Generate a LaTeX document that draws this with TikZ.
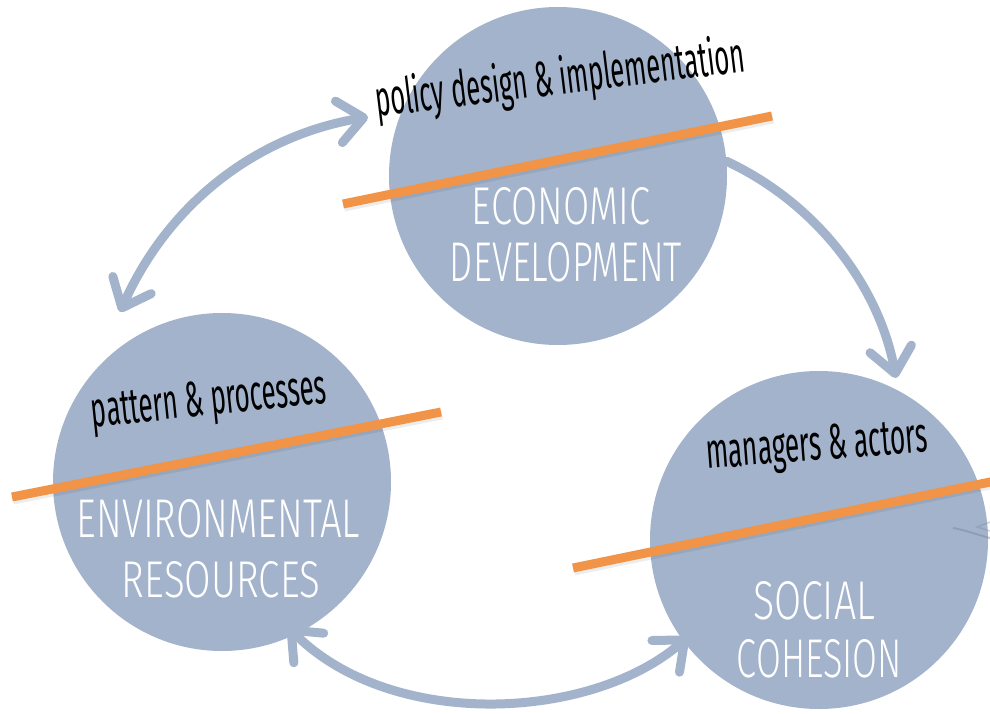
\documentclass[tikz,border=0pt]{standalone}
\usepackage{fontspec}
\setmainfont{Fira Sans}
\newfontfamily\thinfont{Fira Sans}[UprightFont={* Light}]
\usetikzlibrary{arrows.meta}
\definecolor{circ}{RGB}{162,179,203}
\definecolor{orng}{RGB}{242,148,71}
\tikzset{
  bubble/.style={circle, fill=circ, minimum size=338pt, inner sep=0pt},
  bar/.style={line width=9pt, orng},
  barshadow/.style={line width=10pt, black, opacity=0.07},
  flow/.style={line width=9pt, draw=circ, line cap=round, line join=round},
  barb/.tip={Straight Barb[length=25pt, width=42pt, round]},
  lab/.style={inner sep=0pt, text=white, font=\thinfont},
  note/.style={inner sep=0pt, text=black}
}
\newcommand{\labtxt}[3]{\resizebox{#1pt}{#2pt}{#3}}
\newcommand{\notetxt}[2]{\resizebox{#1pt}{\height}{\fontsize{50}{50}\selectfont #2}}
\begin{document}
\begin{tikzpicture}[x=1pt,y=-1pt]
\useasboundingbox (0,0) rectangle (990,714);
\fill[white] (0,0) rectangle (990,714);

% circles
\node[bubble] (ED) at (558,176) {};
\node[bubble] (ER) at (222,482) {};
\node[bubble] (SC) at (819,540) {};

% connector end points
\coordinate (a1s) at (120,312);
\coordinate (a1e) at (368,117);
\coordinate (a2e) at (896,378);
\coordinate (a3s) at (288,627);
\coordinate (a3e) at (688,637);

% arrows
\draw[flow, barb-barb] (a1s) .. controls (170,200) and (260,135) .. (a1e);
\draw[flow, -barb] (ED.5) .. controls (820,205) and (880,290) .. (a2e);
\draw[flow, barb-barb] (a3s) .. controls (390,730) and (590,722) .. (a3e);

% partial arrow at right edge
\coordinate (a4s) at (990,538);
\coordinate (a4e) at (953,528);
\draw[line width=2pt, circ!75!black, opacity=0.45] (a4s) .. controls (978,535) and (965,530) .. (a4e);
\draw[line width=1.5pt, circ!75!black, opacity=0.35] (990,522) -- (977,527) -- (990,531);

% orange bars with light shadow
\draw[barshadow] (344,206.5) -- (773,118.5);
\draw[bar] (343,204) -- (772,116);
\draw[barshadow] (13,499.5) -- (442,414.5);
\draw[bar] (12,497) -- (441,412);
\draw[barshadow] (574,570.5) -- (992,484);
\draw[bar] (573,568) -- (995,481);

% black notes
\node[note, rotate=7] (n1) at (560,80) {\notetxt{372}{policy design \& implementation}};
\node[note, rotate=6] (n2) at (209,403) {\notetxt{236}{pattern \& processes}};
\node[note, rotate=4.5] (n3) at (817,448) {\notetxt{222}{managers \& actors}};

% white labels
\node[lab] (l1) at (561,206.5) {\labtxt{178}{37}{ECONOMIC}};
\node[lab] (l2) at (566,262.5) {\labtxt{232}{39}{DEVELOPMENT}};
\node[lab] (l3) at (218.5,519) {\labtxt{283}{38}{ENVIRONMENTAL}};
\node[lab] (l4) at (221,580) {\labtxt{198}{36}{RESOURCES}};
\node[lab] (l5) at (814,601) {\labtxt{122}{38}{SOCIAL}};
\node[lab] (l6) at (819.5,659) {\labtxt{165}{38}{COHESION}};
\end{tikzpicture}
\end{document}
